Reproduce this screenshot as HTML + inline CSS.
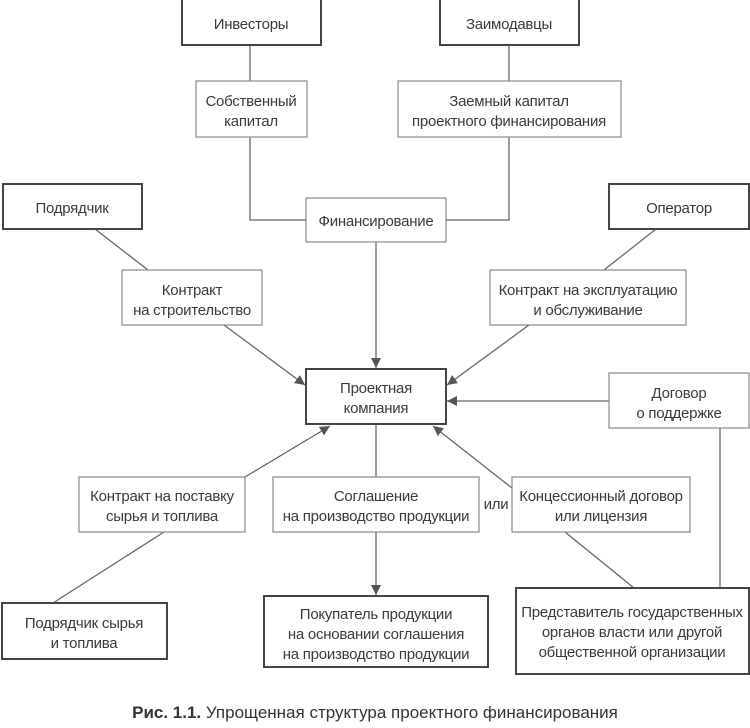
<!DOCTYPE html>
<html><head><meta charset="utf-8"><style>
html,body{margin:0;padding:0;background:#fff;}
svg text{font-family:"Liberation Sans Narrow","Liberation Sans","DejaVu Sans Condensed",sans-serif;font-size:15px;letter-spacing:-0.25px;fill:#3a3a3a;text-anchor:middle;}
</style></head><body>
<svg width="750" height="723" viewBox="0 0 750 723" xmlns="http://www.w3.org/2000/svg">
<defs><marker id="a" viewBox="0 0 10 10" refX="10" refY="5" markerWidth="10" markerHeight="10" orient="auto" markerUnits="userSpaceOnUse"><path d="M0,0 L10,5 L0,10 z" fill="#555"/></marker></defs>
<g stroke="#666" stroke-width="1.3" fill="none">
<line x1="250" y1="45" x2="250" y2="81"/>
<polyline points="250,137 250,220 306,220"/>
<line x1="509" y1="45" x2="509" y2="81"/>
<polyline points="509,137 509,220 446,220"/>
<line x1="376" y1="242" x2="376" y2="368" marker-end="url(#a)"/>
<line x1="95" y1="229" x2="148" y2="270"/>
<line x1="656" y1="229" x2="604" y2="270"/>
<line x1="224" y1="325" x2="305" y2="385" marker-end="url(#a)"/>
<line x1="529" y1="325" x2="447" y2="385" marker-end="url(#a)"/>
<line x1="609" y1="401" x2="447" y2="401" marker-end="url(#a)"/>
<line x1="720" y1="428" x2="720" y2="588"/>
<line x1="245" y1="477" x2="330" y2="426" marker-end="url(#a)"/>
<line x1="164" y1="532" x2="53" y2="603"/>
<line x1="376" y1="424" x2="376" y2="477"/>
<line x1="376" y1="532" x2="376" y2="595" marker-end="url(#a)"/>
<line x1="512" y1="488" x2="433" y2="426" marker-end="url(#a)"/>
<line x1="565" y1="532" x2="634" y2="588"/>
</g>
<g fill="#fff" stroke="#888" stroke-width="1.2">
<rect x="196" y="81" width="111" height="56"/>
<rect x="398" y="81" width="223" height="56"/>
<rect x="306" y="198" width="140" height="44"/>
<rect x="122" y="270" width="140" height="55"/>
<rect x="490" y="270" width="196" height="55"/>
<rect x="609" y="373" width="140" height="55"/>
<rect x="79" y="477" width="166" height="55"/>
<rect x="273" y="477" width="206" height="55"/>
<rect x="512" y="477" width="178" height="55"/>
</g>
<g fill="#fff" stroke="#444" stroke-width="2">
<rect x="182" y="-2" width="139" height="47"/>
<rect x="440" y="-2" width="139" height="47"/>
<rect x="3" y="184" width="139" height="45"/>
<rect x="609" y="184" width="140" height="45"/>
<rect x="306" y="369" width="140" height="55"/>
<rect x="2" y="603" width="165" height="56"/>
<rect x="264" y="596" width="224" height="71"/>
<rect x="516" y="588" width="233" height="86"/>
</g>
<text x="251" y="29">Инвесторы</text>
<text x="509" y="29">Заимодавцы</text>
<text x="251" y="106">Собственный</text><text x="251" y="126">капитал</text>
<text x="509" y="106">Заемный капитал</text><text x="509" y="126">проектного финансирования</text>
<text x="376" y="226">Финансирование</text>
<text x="72" y="213">Подрядчик</text>
<text x="679" y="213">Оператор</text>
<text x="192" y="295">Контракт</text><text x="192" y="315">на строительство</text>
<text x="588" y="295">Контракт на эксплуатацию</text><text x="588" y="315">и обслуживание</text>
<text x="376" y="393">Проектная</text><text x="376" y="413">компания</text>
<text x="679" y="398">Договор</text><text x="679" y="418">о поддержке</text>
<text x="162" y="501">Контракт на поставку</text><text x="162" y="521">сырья и топлива</text>
<text x="376" y="501">Соглашение</text><text x="376" y="521">на производство продукции</text>
<text x="496" y="509">или</text>
<text x="601" y="501">Концессионный договор</text><text x="601" y="521">или лицензия</text>
<text x="84" y="628">Подрядчик сырья</text><text x="84" y="648">и топлива</text>
<text x="376" y="619">Покупатель продукции</text><text x="376" y="639">на основании соглашения</text><text x="376" y="659">на производство продукции</text>
<text x="632" y="617">Представитель государственных</text><text x="632" y="637">органов власти или другой</text><text x="632" y="657">общественной организации</text>
<text x="375" y="718" style="font-size:17px;letter-spacing:0;fill:#333"><tspan font-weight="bold">Рис. 1.1.</tspan> Упрощенная структура проектного финансирования</text>
</svg>
</body></html>
